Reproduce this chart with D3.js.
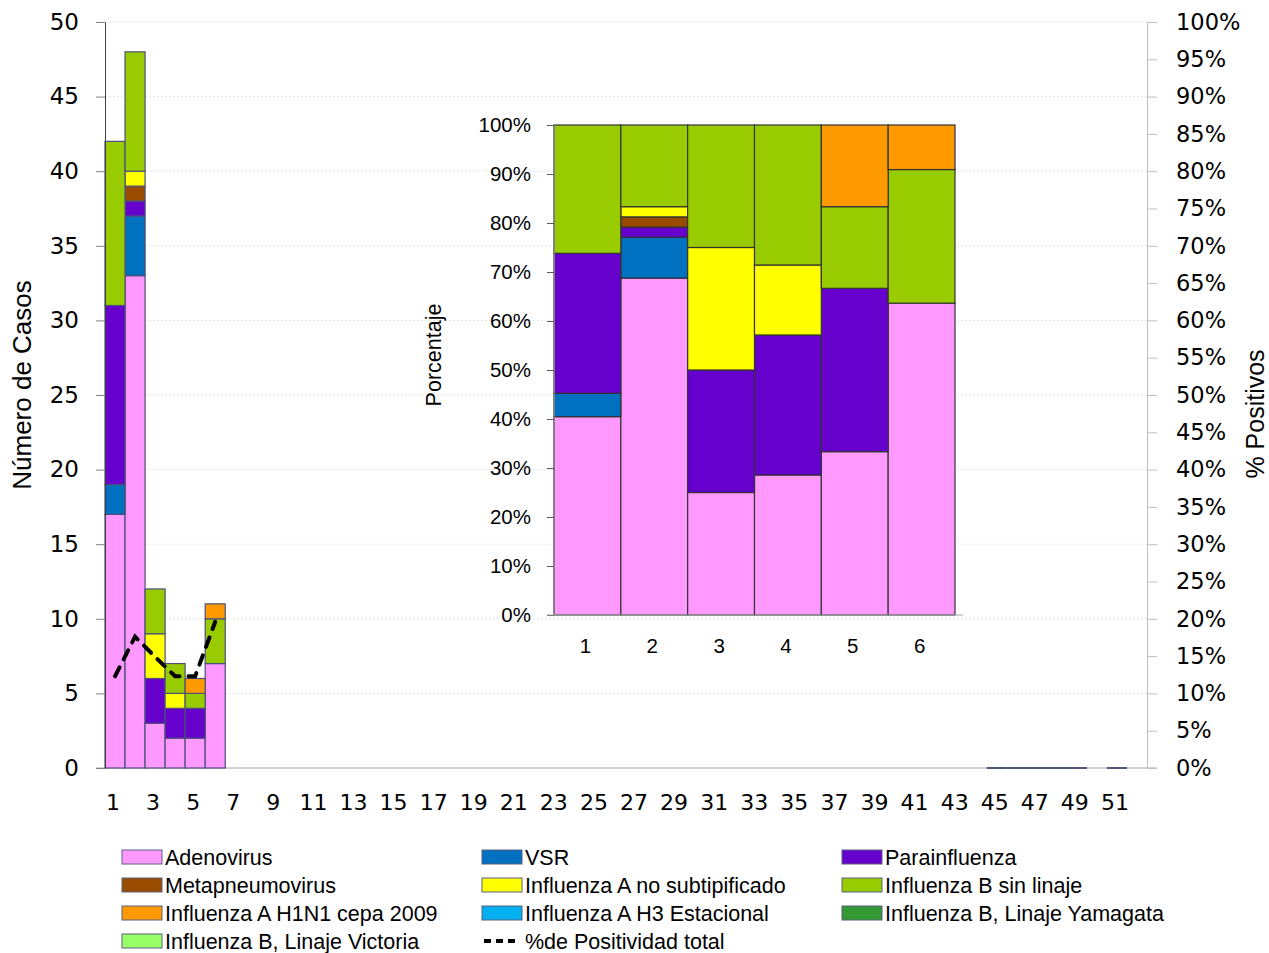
<!DOCTYPE html>
<html>
  <head>
    <meta charset="UTF-8">
    <title>Casos por semana</title>
    <style>
      body { margin: 0; background: #fff; }
      svg text { fill: #000; }
    </style>
  </head>
  <body>
    <svg></svg>
    <script src="https://d3js.org/d3.v7.min.js"></script>
    <script>

/* DATA */

// weeks on the x axis
var weeks = d3.range(1, 53);

// weeks that have a row in the table (zero rows still draw an outline)
var dataWeeks = [1, 2, 3, 4, 5, 6, 45, 46, 47, 48, 49, 51];

var viruses = [
  "Adenovirus", "VSR", "Parainfluenza", "Metapneumovirus",
  "Influenza A no subtipificado", "Influenza B sin linaje",
  "Influenza A H1N1 cepa 2009", "Influenza A H3 Estacional",
  "Influenza B, Linaje Yamagata", "Influenza B, Linaje Victoria"
];

var virusColors = [
  "#ff99ff", "#0070c0", "#6600cc", "#994c00",
  "#ffff00", "#99cc00", "#ff9900", "#00b0f0",
  "#339933", "#99ff66"
];

// cases per week, one array per virus, same order as dataWeeks
var adenovirus     = [17, 33, 3, 2, 2, 7, 0, 0, 0, 0, 0, 0];
var vsr            = [ 2,  4, 0, 0, 0, 0, 0, 0, 0, 0, 0, 0];
var parainfluenza  = [12,  1, 3, 2, 2, 0, 0, 0, 0, 0, 0, 0];
var metapneumo     = [ 0,  1, 0, 0, 0, 0, 0, 0, 0, 0, 0, 0];
var fluANoSub      = [ 0,  1, 3, 1, 0, 0, 0, 0, 0, 0, 0, 0];
var fluBSinLinaje  = [11,  8, 3, 2, 1, 3, 0, 0, 0, 0, 0, 0];
var fluAH1N1       = [ 0,  0, 0, 0, 1, 1, 0, 0, 0, 0, 0, 0];
var fluAH3         = [ 0,  0, 0, 0, 0, 0, 0, 0, 0, 0, 0, 0];
var fluBYamagata   = [ 0,  0, 0, 0, 0, 0, 0, 0, 0, 0, 0, 0];
var fluBVictoria   = [ 0,  0, 0, 0, 0, 0, 0, 0, 0, 0, 0, 0];

// % de positividad total (weeks 1-6)
var positivityWeeks = [1, 2, 3, 4, 5, 6];
var positivity = [0.123, 0.176, 0.149, 0.123, 0.123, 0.196];

var leftTicks = d3.range(0, 51, 5);
var rightTicks = d3.range(0, 1.0001, 0.05);
var insetTicks = d3.range(0, 1.0001, 0.1);

var config = {
  width: 1269,
  height: 953,
  plot: { left: 105, right: 1147, top: 22, bottom: 768 },
  inset: { left: 554, right: 955, top: 125, bottom: 615 }
};

/* BUILD TABLE */

var series = [adenovirus, vsr, parainfluenza, metapneumo, fluANoSub,
  fluBSinLinaje, fluAH1N1, fluAH3, fluBYamagata, fluBVictoria];

var table = dataWeeks.map(function(w, i){
  var row = { week: w };
  viruses.forEach(function(v, j){ row[v] = series[j][i]; });
  row.total = d3.sum(series, function(s){ return s[i]; });
  return row;
});

var color = d3.scaleOrdinal().domain(viruses).range(virusColors);

var svg = d3.select("svg")
  .attr("width", config.width)
  .attr("height", config.height);

var p = config.plot;

var x = d3.scaleBand()
  .domain(weeks)
  .range([p.left, p.right])
  .padding(0);

var y = d3.scaleLinear().domain([0, 50]).range([p.bottom, p.top]);
var yR = d3.scaleLinear().domain([0, 1]).range([p.bottom, p.top]);

// faint gridlines
svg.append("g")
  .selectAll("line")
  .data(leftTicks.slice(1))
  .enter().append("line")
    .attr("x1", p.left)
    .attr("x2", p.right)
    .attr("y1", function(d){ return y(d); })
    .attr("y2", function(d){ return y(d); })
    .attr("stroke", "#e4e4e4")
    .attr("stroke-dasharray", "2,2");

// bottom axis line
svg.append("line")
  .attr("x1", 96).attr("x2", p.right + 10)
  .attr("y1", p.bottom).attr("y2", p.bottom)
  .attr("stroke", "#a6a6a6");

// stacked bars
var stacked = d3.stack().keys(viruses)(table);

svg.append("g")
  .selectAll("g")
  .data(stacked)
  .enter().append("g")
    .attr("fill", function(d){ return color(d.key); })
  .selectAll("rect")
  .data(function(d){ return d.filter(function(s){ return s[1] - s[0] > 0; }); })
  .enter().append("rect")
    .attr("x", function(d){ return x(d.data.week); })
    .attr("width", x.bandwidth())
    .attr("y", function(d){ return y(d[1]); })
    .attr("height", function(d){ return y(d[0]) - y(d[1]); })
    .attr("stroke", "#4c4f78")
    .attr("stroke-width", 1.2);

// empty weeks: only the flat outline of the bar shows on the axis
svg.append("g")
  .selectAll("line")
  .data(table.filter(function(d){ return d.total == 0; }))
  .enter().append("line")
    .attr("x1", function(d){ return x(d.week); })
    .attr("x2", function(d){ return x(d.week) + x.bandwidth(); })
    .attr("y1", y(0))
    .attr("y2", y(0))
    .attr("stroke", "#4c5878")
    .attr("stroke-width", 2);

// bottom axis labels
var xAxis = svg.append("g")
  .attr("transform", "translate(0," + p.bottom + ")")
  .call(d3.axisBottom(x)
    .tickValues(weeks.filter(function(w){ return w % 2 == 1; }))
    .tickSize(0)
    .tickPadding(26));
xAxis.select(".domain").remove();
xAxis.selectAll("text")
  .attr("dx", "-2")
  .style("font-family", "'DejaVu Sans'")
  .style("font-size", "22px");

// left axis
var yAxis = svg.append("g")
  .attr("transform", "translate(" + p.left + ",0)")
  .call(d3.axisLeft(y).tickValues(leftTicks).tickSize(9).tickPadding(17).tickSizeOuter(0));
yAxis.select(".domain").attr("stroke", "#404040");
yAxis.selectAll(".tick line").attr("stroke", "#808080");
yAxis.selectAll("text")
  .style("font-family", "'DejaVu Sans'")
  .style("font-size", "23px");

// right axis
var rAxis = svg.append("g")
  .attr("transform", "translate(" + p.right + ",0)")
  .call(d3.axisRight(yR).tickValues(rightTicks).tickFormat(d3.format(".0%"))
    .tickSize(10).tickPadding(19).tickSizeOuter(0));
rAxis.select(".domain").attr("stroke", "#bfbfbf");
rAxis.selectAll(".tick line").attr("stroke", "#bfbfbf");
rAxis.selectAll("text")
  .style("font-family", "'DejaVu Sans'")
  .style("font-size", "22.5px")
  .attr("text-anchor", "start");

// positivity line
var line = d3.line()
  .x(function(d, i){ return x(positivityWeeks[i]) + x.bandwidth() / 2; })
  .y(function(d){ return yR(d); });

svg.append("path")
  .datum(positivity)
  .attr("d", line)
  .attr("fill", "none")
  .attr("stroke", "#000")
  .attr("stroke-width", 4)
  .attr("stroke-linecap", "round")
  .attr("stroke-dasharray", "10,9");

// axis titles
svg.append("text")
  .attr("transform", "translate(31,385) rotate(-90)")
  .attr("text-anchor", "middle")
  .style("font-family", "'Liberation Sans'")
  .style("font-size", "26px")
  .text("Número de Casos");

svg.append("text")
  .attr("transform", "translate(1264,414) rotate(-90)")
  .attr("text-anchor", "middle")
  .style("font-family", "'Liberation Sans'")
  .style("font-size", "25px")
  .text("% Positivos");

/* INSET: percentage of cases per week */

var q = config.inset;
var insetRows = table.filter(function(d){ return d.total > 0; });

var xi = d3.scaleBand()
  .domain(insetRows.map(function(d){ return d.week; }))
  .range([q.left, q.right])
  .padding(0);
var yi = d3.scaleLinear().domain([0, 1]).range([q.bottom, q.top]);

var expanded = d3.stack().keys(viruses).offset(d3.stackOffsetExpand)(insetRows);

svg.append("g")
  .selectAll("g")
  .data(expanded)
  .enter().append("g")
    .attr("fill", function(d){ return color(d.key); })
  .selectAll("rect")
  .data(function(d){ return d.filter(function(s){ return s[1] - s[0] > 0; }); })
  .enter().append("rect")
    .attr("x", function(d){ return xi(d.data.week); })
    .attr("width", xi.bandwidth())
    .attr("y", function(d){ return yi(d[1]); })
    .attr("height", function(d){ return yi(d[0]) - yi(d[1]); })
    .attr("stroke", "#333")
    .attr("stroke-width", 1.2);

var iyAxis = svg.append("g")
  .attr("transform", "translate(" + q.left + ",0)")
  .call(d3.axisLeft(yi).tickValues(insetTicks).tickFormat(d3.format(".0%"))
    .tickSize(7).tickPadding(16).tickSizeOuter(0));
iyAxis.select(".domain").attr("stroke", "#7f7f7f");
iyAxis.selectAll(".tick line").attr("stroke", "#595959");
iyAxis.selectAll("text")
  .style("font-family", "'Liberation Sans'")
  .style("font-size", "20.5px");

var ixAxis = svg.append("g")
  .attr("transform", "translate(0," + q.bottom + ")")
  .call(d3.axisBottom(xi).tickSize(0).tickPadding(23));
ixAxis.select(".domain").remove();
ixAxis.selectAll("text")
  .attr("dx", "-2")
  .style("font-family", "'Liberation Sans'")
  .style("font-size", "20.5px");
svg.append("line")
  .attr("x1", q.left - 7).attr("x2", q.right + 8)
  .attr("y1", q.bottom).attr("y2", q.bottom)
  .attr("stroke", "#a6a6a6");

svg.append("text")
  .attr("transform", "translate(441,355) rotate(-90)")
  .attr("text-anchor", "middle")
  .style("font-family", "'Liberation Sans'")
  .style("font-size", "21.5px")
  .text("Porcentaje");

/* LEGEND */

var legendItems = viruses.map(function(v){ return { name: v, type: "bar" }; })
  .concat([{ name: "%de Positividad total", type: "line" }]);

var legend = svg.append("g")
  .selectAll("g")
  .data(legendItems)
  .enter().append("g")
    .attr("transform", function(d, i){
      return "translate(" + (122 + (i % 3) * 360) + "," + (857 + Math.floor(i / 3) * 28) + ")";
    });

legend.filter(function(d){ return d.type == "bar"; })
  .append("rect")
    .attr("x", 0)
    .attr("y", -7)
    .attr("width", 40)
    .attr("height", 14)
    .attr("fill", function(d){ return color(d.name); })
    .attr("stroke", "#5a6080");

legend.filter(function(d){ return d.type == "line"; })
  .append("line")
    .attr("x1", 2).attr("x2", 38)
    .attr("stroke", "#000")
    .attr("stroke-width", 4)
    .attr("stroke-dasharray", "7,5");

legend.append("text")
  .attr("x", 43)
  .attr("dy", "0.35em")
  .style("font-family", "'Liberation Sans'")
  .style("font-size", "21.5px")
  .text(function(d){ return d.name; });

    </script>
  </body>
</html>
